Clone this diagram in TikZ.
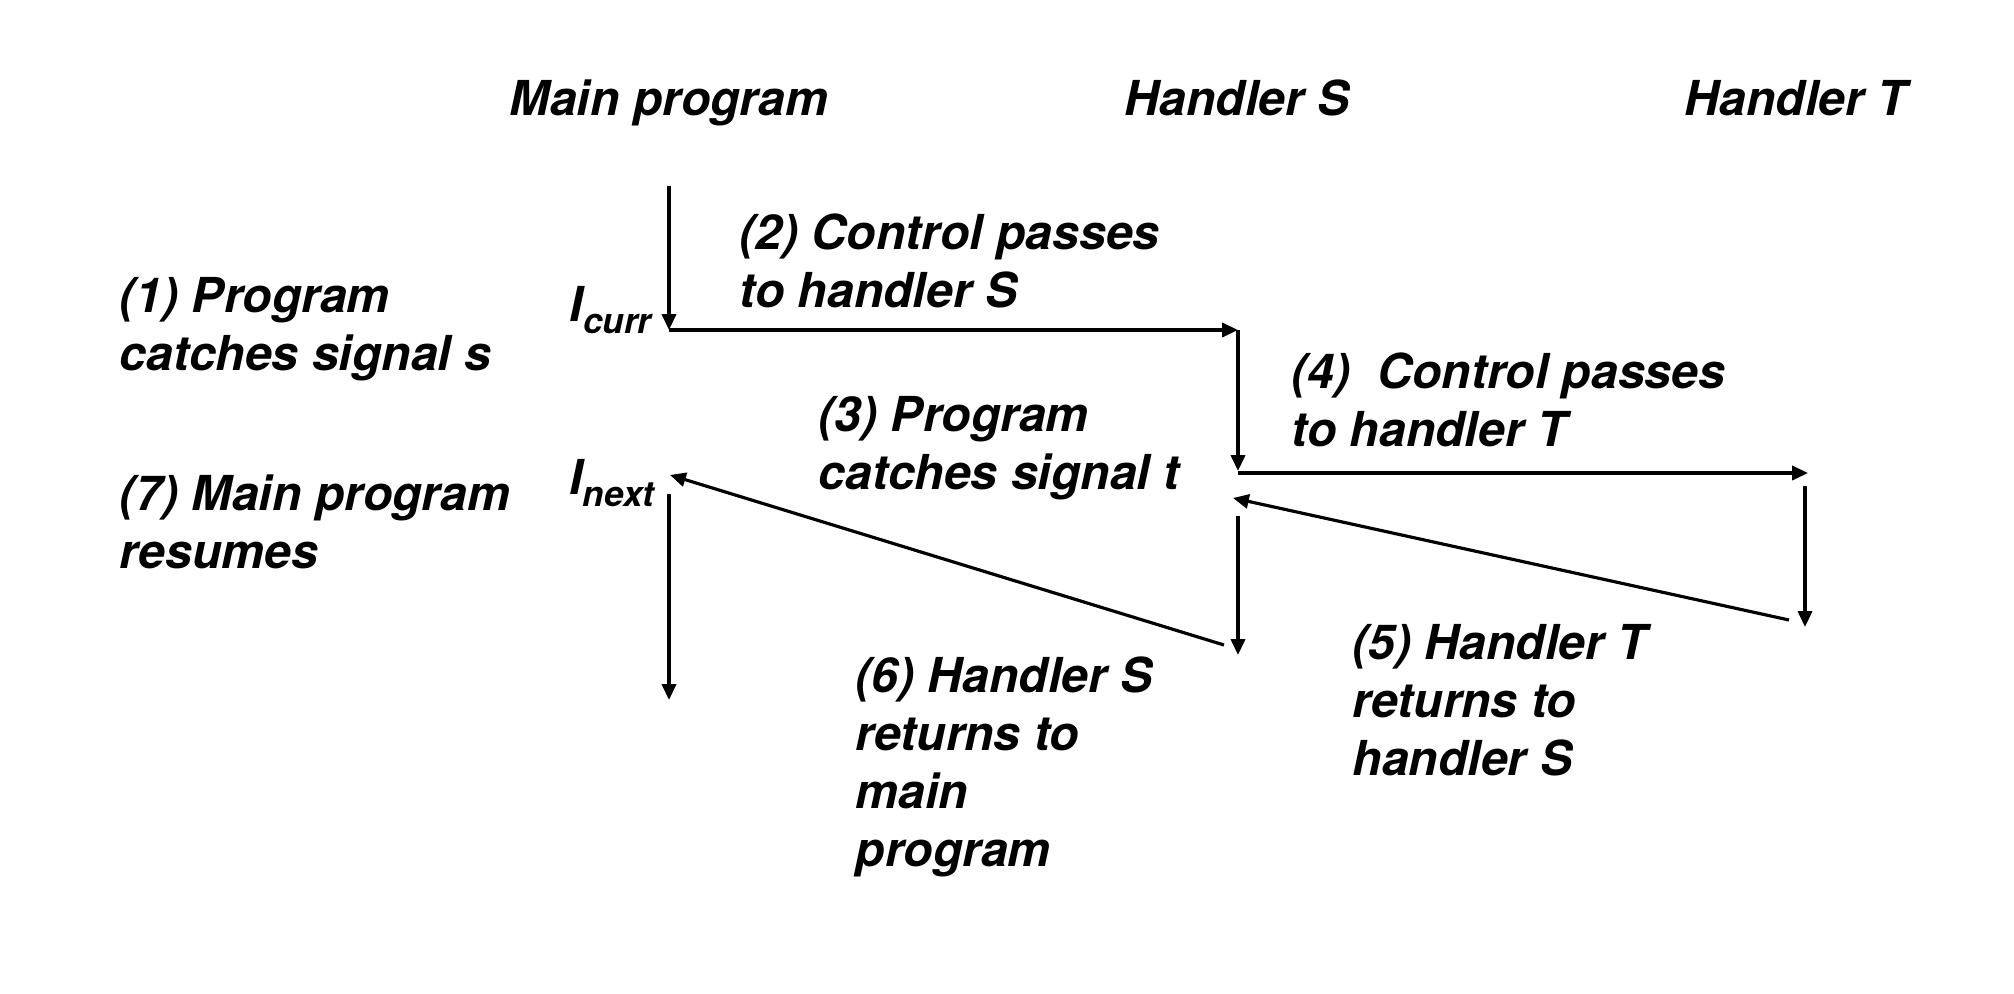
\documentclass[tikz,border=0pt]{standalone}
\usepackage{fontspec}
\setmainfont{TeX Gyre Heros}
\usetikzlibrary{arrows.meta,positioning}

\newcommand{\subidx}[1]{\raisebox{-0.45ex}{\fontsize{10}{10}\selectfont #1}}

\tikzset{
  flow/.style={line width=0.9pt, -{Triangle[length=4.5pt,width=4pt]}},
  txt/.style={inner sep=0pt, font=\bfseries\itshape\fontsize{13.7}{16.5}\selectfont},
  lbl/.style={txt, anchor=north west, align=left},
}

\begin{document}
\begin{tikzpicture}[x=0.01cm, y=-0.01cm]
\useasboundingbox (0,0) rectangle (2014,994);
% column headings
\node[txt, anchor=base] (hmain) at (669,116) {Main program};
\node[txt, anchor=base] (hs) at (1237,116) {Handler S};
\node[txt, anchor=base] (ht) at (1796,116) {Handler T};
% control points
\coordinate (m0) at (669,186);
\coordinate (icurr) at (669,330);
\coordinate (s0) at (1238,330);
\coordinate (s1) at (1238,471);
\coordinate (s2) at (1238,473);
\coordinate (t0) at (1808,473);
\coordinate (t1) at (1805,486);
\coordinate (t2) at (1805,627);
\coordinate (tr) at (1789,620);
\coordinate (sb) at (1233,498);
\coordinate (s3) at (1238,516);
\coordinate (s4) at (1238,655);
\coordinate (sr) at (1224,645);
\coordinate (inext) at (670,475);
\coordinate (m1) at (669,494);
\coordinate (m2) at (669,700);
% instruction labels
\node[txt, anchor=east] (lcurr) at (652,310) {I\subidx{curr}};
\node[txt, anchor=east] (lnext) at (655,483) {I\subidx{next}};
% step labels
\node[lbl] (n1) at (119,277) {(1) Program\\catches signal s};
\node[lbl] (n2) at (739,213) {(2) Control passes\\to handler S};
\node[lbl] (n3) at (818,396) {(3) Program\\catches signal t};
\node[lbl] (n4) at (1291,352) {(4)\ \ Control passes\\to handler T};
\node[lbl] (n5) at (1352,624) {(5) Handler T\\returns to\\handler S};
\node[lbl] (n6) at (855,656) {(6) Handler S\\returns to\\main\\program};
\node[lbl] (n7) at (119,474) {(7) Main program\\resumes};
% control flow
\draw[flow] (m0) -- (icurr);
\draw[flow] (icurr) -- (s0);
\draw[flow] (s0) -- (s1);
\draw[flow] (s2) -- (t0);
\draw[flow] (t1) -- (t2);
\draw[flow] (tr) -- (sb);
\draw[flow] (s3) -- (s4);
\draw[flow] (sr) -- (inext);
\draw[flow] (m1) -- (m2);
\end{tikzpicture}
\end{document}
